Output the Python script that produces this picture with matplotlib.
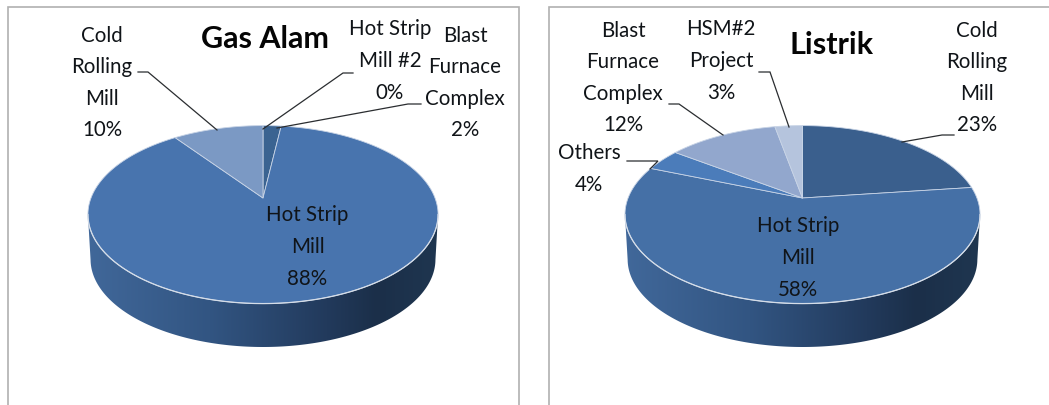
import numpy as np
import matplotlib
matplotlib.use("Agg")
import matplotlib.pyplot as plt
from matplotlib.colors import LinearSegmentedColormap
from matplotlib.patches import Polygon, Rectangle

# Shares of each plant, listed clockwise from twelve o'clock
gas_categories = ["Blast\nFurnace\nComplex", "Hot Strip\nMill", "Cold\nRolling\nMill", "Hot Strip\nMill #2"]
gas_values = [2, 88, 10, 0]
gas_colors = ["#3a6391", "#4874ae", "#7b99c4", "#3a6391"]

power_categories = ["Cold\nRolling\nMill", "Hot Strip\nMill", "Others", "Blast\nFurnace\nComplex", "HSM#2\nProject"]
power_values = [23, 58, 4, 12, 3]
power_colors = ["#3a5f8d", "#4570a6", "#4b7cba", "#92a7cd", "#b5c4dd"]

gas_title = "Gas Alam"
power_title = "Listrik"

W, H = 1049, 406
FONT = "Lato"
TEXT = "#101418"

# Tilted disc: vertical foreshortening plus a little perspective
SX, SA, SC = 172.0, 85.9, 0.1864
DEPTH = 45.0
MID = 16.5  # screen offset from the disc centre to the widest row

side_cmap = LinearSegmentedColormap.from_list(
    "rim", [(0, "#41689a"), (0.35, "#325582"), (0.68, "#223a5c"), (0.82, "#1b2f49"), (1, "#1f3650")]
)


def project(theta, cx, cy, widen=1.0, scale=1.0):
    """Map clockwise angles from the top of the disc to screen pixels."""
    u, v = np.sin(theta), np.cos(theta)
    w = 1 + SC * v
    return cx + widen * scale * SX * u / w, cy - scale * SA * v / w


def front_arc(x, y, limit):
    keep = np.where(y >= limit)[0]
    return keep[np.argsort(x[keep])]


def draw_pie(ax, values, colors, cx, cy, widen=1.0):
    theta = np.linspace(0, 2 * np.pi, 1441)
    x, y = project(theta, cx, cy, widen)
    top = front_arc(x, y, cy + MID)

    # Side wall: front half of the rim swept down to the lower outline
    bx, by = project(theta, cx, cy, widen, 0.985)
    by = by + DEPTH
    bottom = front_arc(bx, by, cy + MID + DEPTH)
    wall = np.column_stack([np.r_[x[top], bx[bottom][::-1]], np.r_[y[top], by[bottom][::-1]]])
    poly = Polygon(wall, closed=True, fc="none", ec="none", transform=ax.transData)
    ax.add_patch(poly)
    grad = np.linspace(0, 1, 256).reshape(1, -1)
    im = ax.imshow(grad, cmap=side_cmap, extent=(cx - 178, cx + 178, cy + 155, cy + 10),
                   aspect="auto", zorder=2)
    im.set_clip_path(poly)

    # Top face wedges
    start = 0.0
    for val, col in zip(values, colors):
        sweep = 2 * np.pi * val / sum(values)
        if val > 0:
            n = max(int(val * 8), 8)
            th = np.linspace(start, start + sweep, n)
            wx, wy = project(th, cx, cy, widen)
            ax.fill(np.r_[cx, wx], np.r_[cy, wy], fc=col, ec="#c8d4e6", lw=0.6,
                    joinstyle="round", zorder=3)
        start += sweep

    # Bright highlight along the front edge of the top face
    ax.plot(x[top], y[top], color="#d5dde8", lw=0.9, zorder=4)


def label(ax, text, value, x, y):
    ax.text(x, y, f"{text}\n{value}%", ha="center", va="center", ma="center",
            fontsize=14.8, family=FONT, color=TEXT, linespacing=1.72, zorder=6)


def leader(ax, xs, ys):
    ax.plot(xs, ys, color="#2a2d30", lw=0.9, zorder=5, solid_joinstyle="miter")


fig = plt.figure(figsize=(W / 100, H / 100), dpi=100, facecolor="white")
ax = fig.add_axes([0, 0, 1, 1])
ax.set_xlim(0, W)
ax.set_ylim(H, 0)
ax.axis("off")

# Chart frames, cut off by the lower edge
ax.add_patch(Rectangle((8, 8), 511, 420, fc="white", ec="#b0b0b0", lw=1.2, zorder=1))
ax.add_patch(Rectangle((548.5, 8), 520, 420, fc="white", ec="#b0b0b0", lw=1.2, zorder=1))

draw_pie(ax, gas_values, gas_colors, 263, 199)
draw_pie(ax, power_values, power_colors, 802.5, 199, widen=1.014)

ax.set_xlim(0, W)
ax.set_ylim(H, 0)

ax.text(265, 39, gas_title, ha="center", va="center", fontsize=22, fontweight="bold",
        family=FONT, color="#050505", zorder=6)
ax.text(832, 45, power_title, ha="center", va="center", fontsize=22, fontweight="bold",
        family=FONT, color="#050505", zorder=6)

gas_pos = [(465, 83), (307.5, 247), (102, 83), (390, 61)]
for name, val, (px, py) in zip(gas_categories, gas_values, gas_pos):
    label(ax, name, val, px, py)

power_pos = [(977, 78), (798, 258), (589, 169), (623, 78), (721, 61)]
for name, val, (px, py) in zip(power_categories, power_values, power_pos):
    label(ax, name, val, px, py)

leader(ax, [138, 148, 217], [73, 73, 131])
leader(ax, [353, 343, 263], [74, 74, 130])
leader(ax, [421, 408, 277], [105, 105, 129])
leader(ax, [759, 770, 789], [73, 73, 128])
leader(ax, [669, 679, 723], [105, 105, 136])
leader(ax, [627, 658, 650], [162, 162, 170])
leader(ax, [954, 942, 902], [136, 136, 143])

fig.savefig("out.png", dpi=100, facecolor="white")
